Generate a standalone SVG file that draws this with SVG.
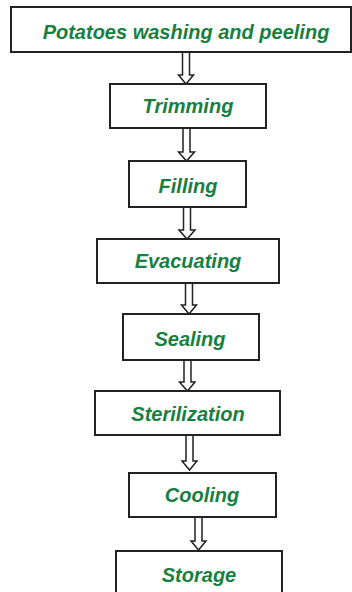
<svg xmlns="http://www.w3.org/2000/svg" width="352" height="592" viewBox="0 0 352 592">
<style>
.box{fill:#fff;stroke:#222;stroke-width:2}
.lbl{font-family:"Liberation Sans",Arial,sans-serif;font-weight:bold;font-style:italic;font-size:20px;fill:#17803f;text-anchor:middle}
.arr{fill:#fff;stroke:#222;stroke-width:1.5;stroke-linejoin:miter}
</style>
<rect width="352" height="592" fill="#fff"/>
<g id="connectors">
<path class="arr" d="M182.5,52 H189.5 V75 H193.5 L186,84 L178.5,75 H182.5 Z"/>
<path class="arr" d="M183,128 H190 V152 H194.5 L186.5,161 L178.5,152 H183 Z"/>
<path class="arr" d="M183.5,207 H190.5 V230 H195 L187,239 L179,230 H183.5 Z"/>
<path class="arr" d="M185.5,283 H192.5 V305 H196.5 L189,314 L181.5,305 H185.5 Z"/>
<path class="arr" d="M184,360 H191 V382 H195 L187.5,391 L179.5,382 H184 Z"/>
<path class="arr" d="M186,435 H193 V461 H197 L189.5,470 L182,461 H186 Z"/>
<path class="arr" d="M195,517 H202 V541 H206 L198.5,550 L191,541 H195 Z"/>
</g>
<g id="n1"><rect class="box" x="11" y="7" width="340" height="45"/><text class="lbl" x="186" y="39">Potatoes washing and peeling</text></g>
<g id="n2"><rect class="box" x="110" y="84" width="156" height="44"/><text class="lbl" x="188" y="113">Trimming</text></g>
<g id="n3"><rect class="box" x="129" y="161" width="117" height="46"/><text class="lbl" x="188" y="193">Filling</text></g>
<g id="n4"><rect class="box" x="97" y="239" width="182" height="44"/><text class="lbl" x="188" y="268">Evacuating</text></g>
<g id="n5"><rect class="box" x="123" y="314" width="136" height="46"/><text class="lbl" x="190" y="346">Sealing</text></g>
<g id="n6"><rect class="box" x="95" y="391" width="185" height="44"/><text class="lbl" x="188" y="421">Sterilization</text></g>
<g id="n7"><rect class="box" x="129" y="473" width="147" height="44"/><text class="lbl" x="202" y="502">Cooling</text></g>
<g id="n8"><rect class="box" x="116" y="551" width="166" height="50"/><text class="lbl" x="199" y="582">Storage</text></g>
</svg>
